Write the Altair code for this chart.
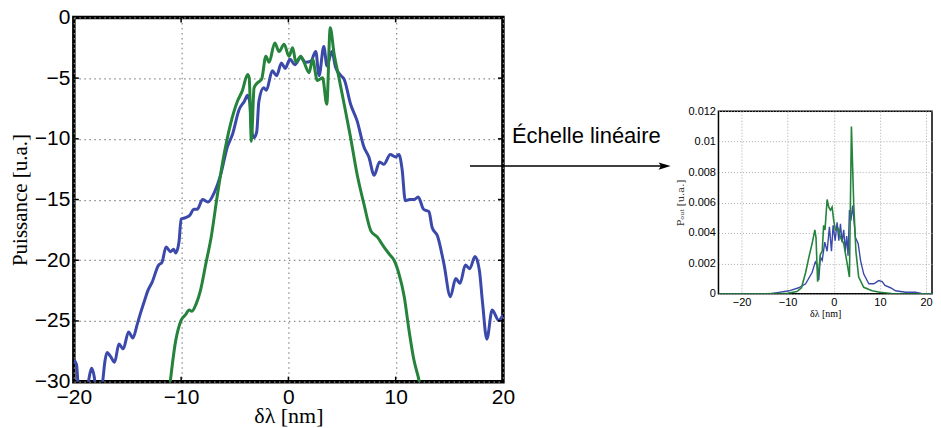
import altair as alt
import pandas as pd

# ---------------- data ----------------
blue_x = [-20.0, -19.75, -19.5, -18.9, -18.6, -18.35, -18.1, -17.85, -17.5, -17.3, -17.1, -16.9,
          -16.6, -16.2, -15.8, -15.4, -14.9, -14.5, -14.1, -13.8, -13.4, -13.1, -12.7, -12.1,
          -11.8, -11.4, -11.0, -10.7, -10.5, -10.2, -10.0, -9.6, -9.2, -8.8, -8.5, -8.0, -7.5,
          -6.9, -6.3, -5.7, -5.2, -4.6, -4.1, -3.8, -3.6, -3.4, -3.2, -2.95, -2.75, -2.3,
          -2.05, -1.5, -1.1, -0.65, -0.3, 0.15, 0.6, 1.15, 1.6, 2.1, 2.55, 2.86, 3.3, 3.6,
          4.05, 4.4, 4.9, 5.2, 5.8, 6.4, 7.05, 7.5, 8.0, 8.5, 8.9, 9.5, 10.0, 10.3, 10.6,
          10.9, 11.3, 11.7, 12.1, 12.6, 13.1, 13.4, 13.9, 14.5, 15.1, 15.6, 16.0, 16.5,
          16.9, 17.4, 17.8, 18.1, 18.5, 19.0, 19.6, 20.0]
blue_y = [-28.2, -28.6, -31.5, -31.5, -29.8, -28.9, -29.6, -31.5, -31.5, -29.9, -28.3, -27.6,
          -27.9, -28.4, -26.9, -27.3, -25.9, -26.4, -25.3, -24.4, -23.3, -22.5, -21.8, -20.4,
          -20.2, -18.9, -19.3, -19.1, -19.4, -18.5, -16.6, -16.5, -16.3, -15.8, -15.8, -15.0, -15.2,
          -14.4, -12.9, -10.7, -9.6, -7.6, -6.9, -6.4, -7.0, -9.5, -9.9, -9.4, -6.9, -5.8,
          -6.0, -4.4, -4.8, -3.75, -4.2, -3.45, -3.9, -3.3, -3.7, -3.6, -2.8, -4.8, -2.4, -4.0,
          -2.8, -4.1, -4.8, -5.1, -7.15, -8.5, -10.7, -11.5, -13.0, -11.9, -12.1, -11.3, -11.5, -11.3, -12.5,
          -15.1, -15.0, -15.0, -14.8, -15.8, -16.0, -17.3, -18.0, -20.3, -23.0, -21.5, -21.9, -20.4,
          -20.7, -19.7, -20.8, -23.5, -26.5, -24.1, -24.95, -24.5]

green_x = [-11.2, -10.5, -10.0, -9.6, -9.25, -9.0, -8.6, -8.2, -7.7, -7.2, -6.6, -6.0, -5.4,
           -4.75, -4.3, -3.8, -3.65, -3.45, -3.2, -2.9, -2.5, -2.1, -1.8, -1.27, -0.87, -0.4,
           0.05, 0.4, 0.7, 1.15, 1.46, 1.93, 2.25, 2.7, 3.18, 3.58, 3.9, 4.26, 4.72, 5.2, 5.8,
           6.4, 7.05, 7.7, 8.3, 8.9, 9.5, 9.85, 10.3, 10.8, 11.25, 11.7, 12.2, 12.4]
green_y = [-31.5, -26.6, -24.95, -24.5, -24.1, -24.2, -23.6, -22.5, -20.3, -18.1, -14.5, -11.3, -8.8,
           -6.9, -6.05, -4.7, -5.0, -10.2, -5.8, -5.4, -5.1, -3.2, -3.7, -2.1, -2.8, -2.2,
           -3.2, -2.5, -3.7, -3.2, -3.7, -4.55, -3.45, -5.2, -4.96, -7.15, -0.85, -3.0, -5.0, -7.15, -9.9,
           -12.9, -15.4, -17.6, -18.1, -18.9, -19.6, -20.0, -21.1, -23.0, -25.8, -28.2, -30.0, -31.0]

# inset (linear scale)
blue_lin_x = [-25, -14, -11.9, -9.7, -7.6, -6.1, -4.7, -4.0, -3.6, -3.25, -2.9, -2.5, -1.95, -1.44,
              -0.94, -0.5, -0.14, 0.3, 0.72, 1.1, 1.45, 1.8, 2.16, 2.5, 2.8, 3.1, 3.4, 3.7, 4.1,
              4.7, 5.3, 5.8, 6.5, 7.6, 8.7, 9.74, 10.5, 11.1, 12.3, 13.4, 15.6, 17.7, 19.0, 22.7]
blue_lin_y = [0, 0, 0.0001, 0.0002, 0.0004, 0.00066, 0.0014, 0.0021, 0.0019, 0.0009, 0.0024, 0.0022,
              0.0034, 0.0028, 0.0044, 0.0028, 0.0045, 0.0035, 0.0047, 0.0035, 0.0046, 0.0034, 0.0042,
              0.0028, 0.0038, 0.0025, 0.0055, 0.0048, 0.0058, 0.0037, 0.0033, 0.0022, 0.0013, 0.00066,
              0.00066, 0.00087, 0.0008, 0.00055, 0.0004, 0.0002, 0.0001, 0.0001, 0.00002, 0]
green_lin_x = [-25, -15, -10, -8, -7, -6.1, -5.4, -4.7, -4.1, -3.85, -3.5, -2.9, -2.5, -2.2, -1.9,
               -1.44, -1.08, -0.72, -0.36, 0, 0.36, 0.94, 1.45, 2.16, 2.9, 3.4, 3.83, 4.33, 4.8,
               5.4, 6.5, 8.3, 10, 12.5, 15, 22.7]
green_lin_y = [0, 0, 0.00003, 0.00015, 0.0004, 0.0014, 0.0024, 0.0033, 0.0042, 0.0037, 0.0008, 0.0026,
               0.0028, 0.0045, 0.0042, 0.0062, 0.0057, 0.0055, 0.0057, 0.0048, 0.0042, 0.0043, 0.0037,
               0.0033, 0.002, 0.0011, 0.011, 0.0059, 0.0028, 0.0011, 0.00043, 0.0002, 0.0001, 0.00002,
               0, 0]

main_xticks = [-10, 0, 10]
main_yticks = [-25, -20, -15, -10, -5]
inset_xticks = [-20, -10, 0, 10, 20]

x_title = "δλ  [nm]"
y_title = "Puissance [u.a.]"
inset_y_title = "Pₒᵤₜ [u.a.]"
note_text = "Échelle linéaire"

BLUE = "#3A49AA"
GREEN = "#25833B"

# ---------------- main chart ----------------
W, H = 430, 365
xs = alt.Scale(domain=[-20, 20], nice=False)
ys = alt.Scale(domain=[-30, 0], nice=False)

xaxis = alt.Axis(values=[-20, -10, 0, 10, 20], title=x_title, grid=True, ticks=False, domain=False,
                 labelFont="Liberation Sans", labelFontSize=21, labelColor="black", labelPadding=5,
                 titleFont="Liberation Serif", titleFontSize=22, titleFontWeight="normal",
                 titleColor="black", titlePadding=-2, gridColor="#888", gridDash=[1.5, 3.5],
                 gridWidth=1.2, labelFlush=False)
yaxis = alt.Axis(values=[-30, -25, -20, -15, -10, -5, 0], title=y_title, grid=True, ticks=False,
                 domain=False, labelFont="Liberation Sans", labelFontSize=21, labelColor="black",
                 labelPadding=4, titleFont="Liberation Serif", titleFontSize=21,
                 titleFontWeight="normal", titleColor="black", titlePadding=4,
                 gridColor="#888", gridDash=[1.5, 3.5], gridWidth=1.2, labelFlush=False)

df_b = pd.DataFrame({"x": blue_x, "y": blue_y})
df_g = pd.DataFrame({"x": green_x, "y": green_y})

blue_line = alt.Chart(df_b).mark_line(color=BLUE, strokeWidth=3, clip=True,
                                      interpolate="monotone").encode(
    x=alt.X("x:Q", scale=xs, axis=xaxis), y=alt.Y("y:Q", scale=ys, axis=yaxis))
green_line = alt.Chart(df_g).mark_line(color=GREEN, strokeWidth=3, clip=True,
                                       interpolate="monotone").encode(
    x=alt.X("x:Q", scale=xs), y=alt.Y("y:Q", scale=ys))

dxt = pd.DataFrame({"t": main_xticks})
dyt = pd.DataFrame({"t": main_yticks})
tick_b = alt.Chart(dxt).mark_rule(color="black", strokeWidth=1.5).encode(
    x=alt.X("t:Q", scale=xs), y=alt.value(H), y2=alt.value(H - 5))
tick_t = alt.Chart(dxt).mark_rule(color="black", strokeWidth=1.5).encode(
    x=alt.X("t:Q", scale=xs), y=alt.value(0), y2=alt.value(5))
tick_l = alt.Chart(dyt).mark_rule(color="black", strokeWidth=1.5).encode(
    y=alt.Y("t:Q", scale=ys), x=alt.value(0), x2=alt.value(5))
tick_r = alt.Chart(dyt).mark_rule(color="black", strokeWidth=1.5).encode(
    y=alt.Y("t:Q", scale=ys), x=alt.value(W), x2=alt.value(W - 5))

dnote = pd.DataFrame({"t": [note_text]})
arrow_line = alt.Chart(dnote).mark_rule(color="black", strokeWidth=1.5).encode(
    x=alt.value(397), x2=alt.value(590), y=alt.value(149))
arrow_head = alt.Chart(dnote).mark_point(
    shape="M-1,-0.6L1,0L-1,0.6L-0.6,0Z", filled=True, opacity=1, size=144, color="black",
    strokeWidth=0).encode(x=alt.value(592), y=alt.value(149))
note = alt.Chart(dnote).mark_text(align="left", baseline="alphabetic", font="Liberation Sans",
                                  fontSize=22, color="black").encode(
    text="t:N", x=alt.value(439), y=alt.value(126))

main = alt.layer(blue_line, green_line, tick_b, tick_t, tick_l, tick_r,
                 arrow_line, arrow_head, note).properties(
    width=W, height=H, view=alt.ViewBackground(stroke="black", strokeWidth=3.5))

# ---------------- inset ----------------
IW, IH = 214, 183
ixs = alt.Scale(domain=[-25, 21.3], nice=False)
iys = alt.Scale(domain=[0, 0.012], nice=False)
ixaxis = alt.Axis(values=inset_xticks, title=x_title, grid=True, ticks=False, domain=False,
                  labelFont="Liberation Sans", labelFontSize=11, labelColor="black", labelPadding=3,
                  titleFont="Liberation Serif", titleFontSize=10, titleFontWeight="normal",
                  titleColor="black", titlePadding=1, gridColor="#aaa", gridDash=[1, 2],
                  gridWidth=1, labelOverlap=False)
iyaxis = alt.Axis(tickCount=6, format="~g", title=inset_y_title, grid=True, ticks=False,
                  domain=False, labelFont="Liberation Sans", labelFontSize=11, labelColor="black",
                  labelPadding=3, titleFont="DejaVu Serif", titleFontSize=10,
                  titleFontWeight="normal", titleColor="#333", titlePadding=3,
                  gridColor="#aaa", gridDash=[1, 2], gridWidth=1, labelOverlap=False,
                  labelSeparation=0)

dib = pd.DataFrame({"x": blue_lin_x, "y": blue_lin_y})
dig = pd.DataFrame({"x": green_lin_x, "y": green_lin_y})
iblue = alt.Chart(dib).mark_line(color=BLUE, strokeWidth=1.4, clip=True).encode(
    x=alt.X("x:Q", scale=ixs, axis=ixaxis), y=alt.Y("y:Q", scale=iys, axis=iyaxis))
igreen = alt.Chart(dig).mark_line(color=GREEN, strokeWidth=1.6, clip=True).encode(
    x=alt.X("x:Q", scale=ixs), y=alt.Y("y:Q", scale=iys))
inset = alt.layer(iblue, igreen).properties(
    width=IW, height=IH, view=alt.ViewBackground(stroke="black", strokeWidth=1.5))

spacer = alt.Chart(dnote).mark_point(opacity=0).encode(
    x=alt.value(0), y=alt.value(0)).properties(
    width=IW, height=94, view=alt.ViewBackground(strokeOpacity=0))

right_col = alt.vconcat(spacer, inset, spacing=0, bounds="flush")

chart = alt.hconcat(main, right_col, spacing=216, bounds="flush").properties(
    padding={"left": -1, "top": -4, "right": 0, "bottom": 0})

chart.save("out.html", embed_options={"renderer": "svg", "actions": False})
